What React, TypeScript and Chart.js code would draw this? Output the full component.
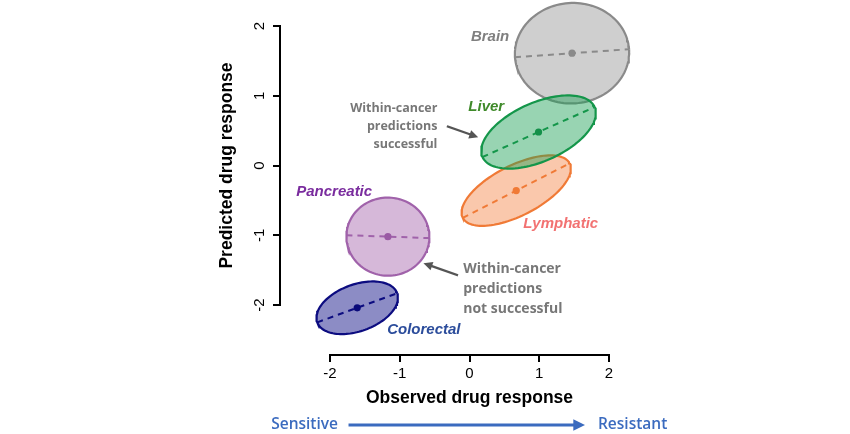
import React, { useEffect, useRef } from "react";
import { Chart, registerables } from "chart.js";
Chart.register(...registerables);

// ---- data ----
const cancers = ["Brain", "Liver", "Lymphatic", "Pancreatic", "Colorectal"];
const observedCenter = [1.47, 0.99, 0.67, -1.17, -1.61];
const predictedCenter = [1.61, 0.48, -0.36, -1.02, -2.04];
const semiMajor = [0.82, 0.88, 0.86, 0.595, 0.61];
const semiMinor = [0.72, 0.42, 0.36, 0.56, 0.335];
const tiltDeg = [4, 24, 27, -2, 20];

const xTicks = [-2, -1, 0, 1, 2];
const yTicks = [-2, -1, 0, 1, 2];
const xTickLabels = ["-2", "-1", "0", "1", "2"];
const yTickLabels = ["-2", "-1", "0", "1", "2"];

const xTitle = "Observed drug response";
const yTitle = "Predicted drug response";
const noteSuccess = ["Within-cancer", "predictions", "successful"];
const noteFail = ["Within-cancer", "predictions", "not successful"];
const sensitiveLabel = "Sensitive";
const resistantLabel = "Resistant";

// ---- styles ----
const strokeColors = ["#8a8a8a", "#14964a", "#f07a36", "#a062aa", "#0c0c80"];
const fillColors = [
  "rgba(160,160,160,0.5)",
  "rgba(27,160,85,0.45)",
  "rgba(242,125,58,0.42)",
  "rgba(165,98,170,0.45)",
  "rgba(26,26,140,0.5)",
];
const dotColors = ["#8a8a8a", "#14904a", "#f07a36", "#9a5aa4", "#0a0a7a"];
const labelColors = ["#7f7f7f", "#3f8a2a", "#f27272", "#7a2c9e", "#2b4c9b"];
// label anchor positions in data units
const labelAnchors = [
  { x: 0.57, y: 1.84, align: "right" },
  { x: 0.24, y: 0.843, align: "center" },
  { x: 1.307, y: -0.843, align: "center" },
  { x: -1.94, y: -0.384, align: "center" },
  { x: -0.655, y: -2.358, align: "center" },
];

const FONT = "'Liberation Sans', Arial, sans-serif";
const NOTE_FONT = "'Open Sans', sans-serif";
const SHIFT = 30; // canvas is shifted up so the plot region can start above the page

function ellipsePoints(i: number) {
  const th = (tiltDeg[i] * Math.PI) / 180;
  const a = semiMajor[i];
  const b = semiMinor[i];
  const cx = observedCenter[i];
  const cy = predictedCenter[i];
  const pts: { x: number; y: number }[] = [];
  const n = 120;
  for (let k = 0; k <= n; k++) {
    const t = (2 * Math.PI * k) / n;
    pts.push({
      x: cx + a * Math.cos(th) * Math.cos(t) - b * Math.sin(th) * Math.sin(t),
      y: cy + a * Math.sin(th) * Math.cos(t) + b * Math.cos(th) * Math.sin(t),
    });
  }
  return pts;
}

function majorAxis(i: number) {
  const th = (tiltDeg[i] * Math.PI) / 180;
  const a = semiMajor[i];
  return [
    { x: observedCenter[i] - a * Math.cos(th), y: predictedCenter[i] - a * Math.sin(th) },
    { x: observedCenter[i] + a * Math.cos(th), y: predictedCenter[i] + a * Math.sin(th) },
  ];
}

function arrow(ctx: CanvasRenderingContext2D, x1: number, y1: number, x2: number, y2: number, color: string, width: number, head: number) {
  const ang = Math.atan2(y2 - y1, x2 - x1);
  ctx.strokeStyle = color;
  ctx.fillStyle = color;
  ctx.lineWidth = width;
  ctx.beginPath();
  ctx.moveTo(x1, y1);
  ctx.lineTo(x2 - Math.cos(ang) * head * 0.7, y2 - Math.sin(ang) * head * 0.7);
  ctx.stroke();
  ctx.beginPath();
  ctx.moveTo(x2, y2);
  ctx.lineTo(x2 - head * Math.cos(ang - 0.45), y2 - head * Math.sin(ang - 0.45));
  ctx.lineTo(x2 - head * Math.cos(ang + 0.45), y2 - head * Math.sin(ang + 0.45));
  ctx.closePath();
  ctx.fill();
}

const overlay = {
  id: "overlay",
  afterDraw(chart: any) {
    const { ctx, chartArea } = chart;
    const x = chart.scales.x;
    const y = chart.scales.y;
    ctx.save();
    // R-style axis lines spanning first to last tick
    ctx.strokeStyle = "#000";
    ctx.lineWidth = 2;
    ctx.lineCap = "square";
    ctx.beginPath();
    ctx.moveTo(x.getPixelForValue(xTicks[0]), chartArea.bottom);
    ctx.lineTo(x.getPixelForValue(xTicks[xTicks.length - 1]), chartArea.bottom);
    ctx.moveTo(chartArea.left, y.getPixelForValue(yTicks[0]));
    ctx.lineTo(chartArea.left, y.getPixelForValue(yTicks[yTicks.length - 1]));
    ctx.stroke();

    // cancer labels
    ctx.font = `italic bold 15px ${FONT}`;
    ctx.textBaseline = "middle";
    cancers.forEach((name, i) => {
      const p = labelAnchors[i];
      ctx.fillStyle = labelColors[i];
      ctx.textAlign = p.align as CanvasTextAlign;
      ctx.fillText(name, x.getPixelForValue(p.x), y.getPixelForValue(p.y));
    });

    // annotation: successful
    ctx.fillStyle = "#777777";
    ctx.font = `bold 12.5px ${NOTE_FONT}`;
    ctx.textAlign = "right";
    const sx = x.getPixelForValue(-0.46);
    const sy0 = y.getPixelForValue(0.812);
    noteSuccess.forEach((t, k) => ctx.fillText(t, sx, sy0 + k * 17.7));
    arrow(ctx, x.getPixelForValue(-0.31), y.getPixelForValue(0.557), x.getPixelForValue(0.125), y.getPixelForValue(0.405), "#555", 2.2, 10);

    // annotation: not successful
    ctx.fillStyle = "#777777";
    ctx.font = `bold 14px ${NOTE_FONT}`;
    ctx.textAlign = "left";
    const fx = x.getPixelForValue(-0.09);
    const fy0 = y.getPixelForValue(-1.488);
    noteFail.forEach((t, k) => ctx.fillText(t, fx, fy0 + k * 19.8));
    arrow(ctx, x.getPixelForValue(-0.18), y.getPixelForValue(-1.57), x.getPixelForValue(-0.66), y.getPixelForValue(-1.40), "#555", 2.2, 10);

    // Sensitive -> Resistant
    const ry = chartArea.bottom + 70;
    ctx.fillStyle = "#3b6bbf";
    ctx.font = `600 15.5px ${NOTE_FONT}`;
    ctx.textAlign = "right";
    ctx.fillText(sensitiveLabel, x.getPixelForValue(-1.885), ry);
    ctx.textAlign = "left";
    ctx.fillText(resistantLabel, x.getPixelForValue(1.842), ry);
    arrow(ctx, x.getPixelForValue(-1.713), ry, x.getPixelForValue(1.656), ry, "#3b6bbf", 3, 13);
    ctx.restore();
  },
};

export default function App() {
  const ref = useRef<HTMLCanvasElement | null>(null);
  useEffect(() => {
    if (!ref.current) return;
    const datasets: any[] = [];
    // center points (top)
    datasets.push({
      label: "centers",
      data: cancers.map((_, i) => ({ x: observedCenter[i], y: predictedCenter[i] })),
      pointRadius: 3.6,
      pointBackgroundColor: dotColors,
      pointBorderWidth: 0,
      showLine: false,
      clip: false,
    });
    // dashed major axes
    cancers.forEach((_, i) => {
      datasets.push({
        label: cancers[i] + " axis",
        data: majorAxis(i),
        showLine: true,
        borderColor: strokeColors[i],
        borderWidth: 2,
        borderDash: [6, 5],
        pointRadius: 0,
        fill: false,
        clip: false,
      });
    });
    // ellipses: drawn from last to first, so Liver over Lymphatic over Brain
    const ellOrder = [3, 4, 1, 2, 0];
    ellOrder.forEach((i) => {
      datasets.push({
        label: cancers[i],
        data: ellipsePoints(i),
        showLine: true,
        borderColor: strokeColors[i],
        backgroundColor: fillColors[i],
        borderWidth: 2.2,
        pointRadius: 0,
        tension: 0,
        fill: "shape",
        clip: false,
      });
    });

    const noPad = (s: any) => {
      s.paddingTop = 0;
      s.paddingBottom = 0;
      s.paddingLeft = 0;
      s.paddingRight = 0;
    };

    const chart = new Chart(ref.current, {
      type: "scatter",
      data: { datasets },
      plugins: [overlay],
      options: {
        animation: false,
        responsive: false,
        maintainAspectRatio: false,
        devicePixelRatio: 1,
        events: [],
        layout: { padding: { left: 217, right: 191, top: SHIFT - 24, bottom: 25 } },
        plugins: { legend: { display: false }, tooltip: { enabled: false } },
        scales: {
          x: {
            type: "linear",
            position: "bottom",
            min: -2.717,
            max: 2.717,
            afterFit: (s: any) => {
              s.height = 54;
              noPad(s);
            },
            afterBuildTicks: (s: any) => {
              s.ticks = xTicks.map((v) => ({ value: v }));
            },
            border: { display: false },
            grid: { display: true, drawOnChartArea: false, drawTicks: true, tickLength: 7, color: "#000", lineWidth: 2 },
            ticks: {
              font: { family: FONT, size: 15 },
              color: "#000",
              padding: 3,
              maxRotation: 0,
              callback: (v: any) => xTickLabels[xTicks.indexOf(Number(v))] ?? "",
            },
            title: { display: true, text: xTitle, color: "#000", font: { family: FONT, size: 17.5, weight: "bold" }, padding: 0 },
          },
          y: {
            type: "linear",
            position: "left",
            min: -2.717,
            max: 2.717,
            afterFit: (s: any) => {
              s.width = 63;
              noPad(s);
            },
            afterBuildTicks: (s: any) => {
              s.ticks = yTicks.map((v) => ({ value: v }));
            },
            border: { display: false },
            grid: { display: true, drawOnChartArea: false, drawTicks: true, tickLength: 7, color: "#000", lineWidth: 2 },
            ticks: {
              font: { family: FONT, size: 15 },
              color: "#000",
              padding: 6,
              minRotation: 90,
              maxRotation: 90,
              crossAlign: "center",
              callback: (v: any) => yTickLabels[yTicks.indexOf(Number(v))] ?? "",
            },
            title: { display: true, text: yTitle, color: "#000", font: { family: FONT, size: 17.5, weight: "bold" }, padding: 0 },
          },
        },
      } as any,
    });
    return () => chart.destroy();
  }, []);
  return (
    <div style={{ position: "absolute", left: 0, top: -SHIFT, width: 850, height: 434 + SHIFT, background: "#fff" }}>
      <canvas ref={ref} width={850} height={434 + SHIFT} style={{ display: "block" }} />
    </div>
  );
}
